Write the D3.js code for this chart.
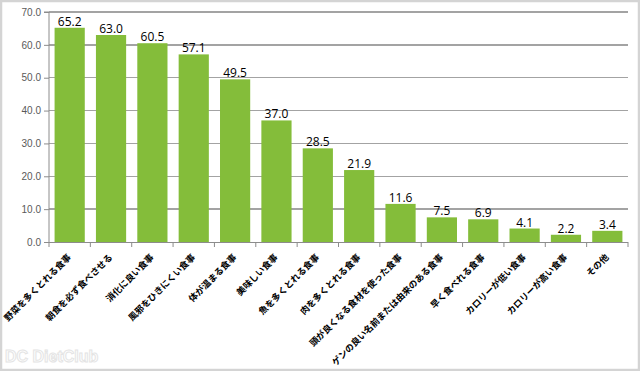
<!DOCTYPE html>
<html><head><meta charset="utf-8">
<script src="https://cdn.jsdelivr.net/npm/d3@7"></script>
<style>html,body{margin:0;padding:0;background:#fff;}svg{display:block;}</style>
</head><body>
<svg id="c" width="640" height="371"></svg>
<script>
const categories = ["野菜を多くとれる食事","朝食を必ず食べさせる","消化に良い食事","風邪をひきにくい食事","体が温まる食事","美味しい食事","魚を多くとれる食事","肉を多くとれる食事","頭が良くなる食材を使った食事","ゲンの良い名前または由来のある食事","早く食べれる食事","カロリーが低い食事","カロリーが高い食事","その他"];
const values = [65.2,63.0,60.5,57.1,49.5,37.0,28.5,21.9,11.6,7.5,6.9,4.1,2.2,3.4];
const yTicks = [0,10,20,30,40,50,60,70];

(function(){
const svg = d3.select("#c");
svg.append("rect").attr("x",1).attr("y",1).attr("width",638).attr("height",369)
  .attr("fill","#fff").attr("stroke","#d4d4d4").attr("stroke-width",2.5);

const pL = 49, pR = 628, pT = 12, pB = 242;
const x = d3.scaleBand().domain(categories).range([pL,pR]).paddingInner(0.27).paddingOuter(0.135);
const y = d3.scaleLinear().domain([0,70]).range([pB,pT]);

// gridlines
svg.append("g").selectAll("line").data(yTicks.filter(d=>d>0)).join("line")
  .attr("x1",pL).attr("x2",pR).attr("y1",d=>y(d)).attr("y2",d=>y(d))
  .attr("stroke","#a3a3a3").attr("stroke-width",1.3).attr("shape-rendering","crispEdges");

// y axis
const ya = svg.append("g").attr("transform",`translate(${pL},0)`)
  .call(d3.axisLeft(y).tickValues(yTicks).tickFormat(d3.format(".1f")).tickSize(5).tickPadding(3));
ya.select(".domain").attr("stroke","#8c8c8c").attr("d",`M-5,${pT}H0V${pB}`);
ya.selectAll(".tick line").attr("stroke","#8c8c8c");
ya.selectAll("text").attr("fill","#595959").style("font-family","'Liberation Sans',Arial,sans-serif").style("font-size","10px");

// bars
svg.append("g").selectAll("rect").data(values).join("rect")
  .attr("x",(d,i)=>x(categories[i])).attr("width",x.bandwidth())
  .attr("y",d=>y(d)).attr("height",d=>pB-y(d)).attr("fill","#84bd3a");

// x axis
svg.append("line").attr("x1",pL).attr("x2",pR).attr("y1",pB+0.5).attr("y2",pB+0.5).attr("stroke","#8c8c8c");
const bounds = d3.range(categories.length+1).map(i=>pL + i*(pR-pL)/categories.length);
svg.append("g").selectAll("line").data(bounds).join("line")
  .attr("x1",d=>d).attr("x2",d=>d).attr("y1",pB).attr("y2",pB+5).attr("stroke","#8c8c8c");

// value labels
svg.append("g").selectAll("text").data(values).join("text")
  .attr("x",(d,i)=>x(categories[i])+x.bandwidth()/2).attr("y",d=>y(d)-2)
  .attr("text-anchor","middle").attr("fill","#000")
  .style("font-family","'Open Sans','Liberation Sans',sans-serif").style("font-size","12px")
  .text(d=>d3.format(".1f")(d));

// category labels
svg.append("g").selectAll("text").data(categories).join("text")
  .attr("transform",d=>`translate(${x(d)+x.bandwidth()/2+2},${pB+16}) rotate(-45)`)
  .attr("text-anchor","end").attr("fill","#000")
  .style("font-family","'Noto Sans CJK JP',sans-serif").style("font-size","9px").style("font-weight","bold")
  .text(d=>d);

// watermark
svg.append("text").attr("x",5).attr("y",362).attr("fill","none").attr("stroke","#e4e4e4").attr("stroke-width",1)
  .style("font-family","'Liberation Sans',sans-serif").style("font-size","16px").style("font-weight","bold")
  .text("DC DietClub");
})();
</script>
</body></html>
